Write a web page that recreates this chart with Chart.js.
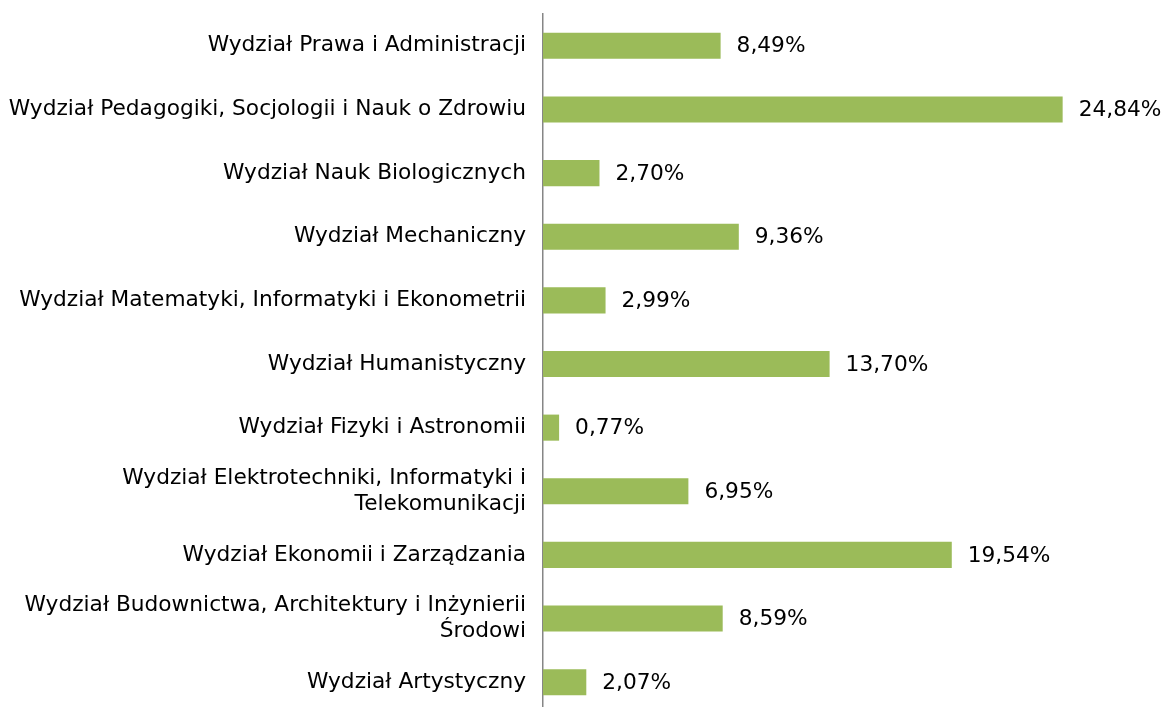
<!DOCTYPE html>
<html lang="pl">
<head>
    <meta charset="UTF-8">
    <title>Wydziały</title>
    <script src="https://cdn.jsdelivr.net/npm/chart.js"></script>
    <style>
        html, body {
            margin: 0;
            padding: 0;
            background: #fff;
            overflow: hidden;
        }

        .chart-container {
            position: relative;
            width: 1166px;
            height: 714px;
        }
    </style>
</head>
<body>
    <div class="chart-container">
        <canvas id="wydzialy"></canvas>
    </div>

    <script>
        const categories = [
            'Wydział Prawa i Administracji',
            'Wydział Pedagogiki, Socjologii i Nauk o Zdrowiu',
            'Wydział Nauk Biologicznych',
            'Wydział Mechaniczny',
            'Wydział Matematyki, Informatyki i Ekonometrii',
            'Wydział Humanistyczny',
            'Wydział Fizyki i Astronomii',
            ['Wydział Elektrotechniki, Informatyki i', 'Telekomunikacji'],
            'Wydział Ekonomii i Zarządzania',
            ['Wydział Budownictwa, Architektury i Inżynierii', 'Środowi'],
            'Wydział Artystyczny'
        ];
        const shares = [8.49, 24.84, 2.70, 9.36, 2.99, 13.70, 0.77, 6.95, 19.54, 8.59, 2.07];

        const FONT = { family: '"DejaVu Sans", Verdana, sans-serif', size: 21.7, lineHeight: 1.17 };

        // value labels right of each bar
        const barLabels = {
            id: 'barLabels',
            afterDatasetsDraw(chart) {
                const ctx = chart.ctx;
                const meta = chart.getDatasetMeta(0);
                ctx.save();
                ctx.font = FONT.size + 'px ' + FONT.family;
                ctx.fillStyle = '#000';
                ctx.textAlign = 'left';
                ctx.textBaseline = 'middle';
                meta.data.forEach((bar, i) => {
                    const txt = shares[i].toFixed(2).replace('.', ',') + '%';
                    ctx.fillText(txt, bar.x + 16, bar.y + 1);
                });
                ctx.restore();
            }
        };

        new Chart(document.getElementById('wydzialy'), {
            type: 'bar',
            data: {
                labels: categories,
                datasets: [{
                    data: shares,
                    backgroundColor: '#9BBB59',
                    categoryPercentage: 1,
                    barPercentage: 0.41
                }]
            },
            options: {
                indexAxis: 'y',
                responsive: true,
                maintainAspectRatio: false,
                animation: false,
                layout: {
                    padding: { top: 14, right: 100, bottom: 0, left: 0 }
                },
                plugins: {
                    legend: { display: false },
                    tooltip: { enabled: false }
                },
                scales: {
                    x: {
                        display: false,
                        min: 0,
                        max: 25
                    },
                    y: {
                        grid: { display: false, drawTicks: false },
                        border: { display: true, color: '#868686', width: 1.5 },
                        ticks: {
                            color: '#000',
                            padding: 17,
                            font: FONT
                        },
                        afterFit(scale) {
                            scale.width = 543;
                            scale.paddingTop = 0;
                            scale.paddingBottom = 0;
                        }
                    }
                }
            },
            plugins: [barLabels]
        });
    </script>
</body>
</html>
